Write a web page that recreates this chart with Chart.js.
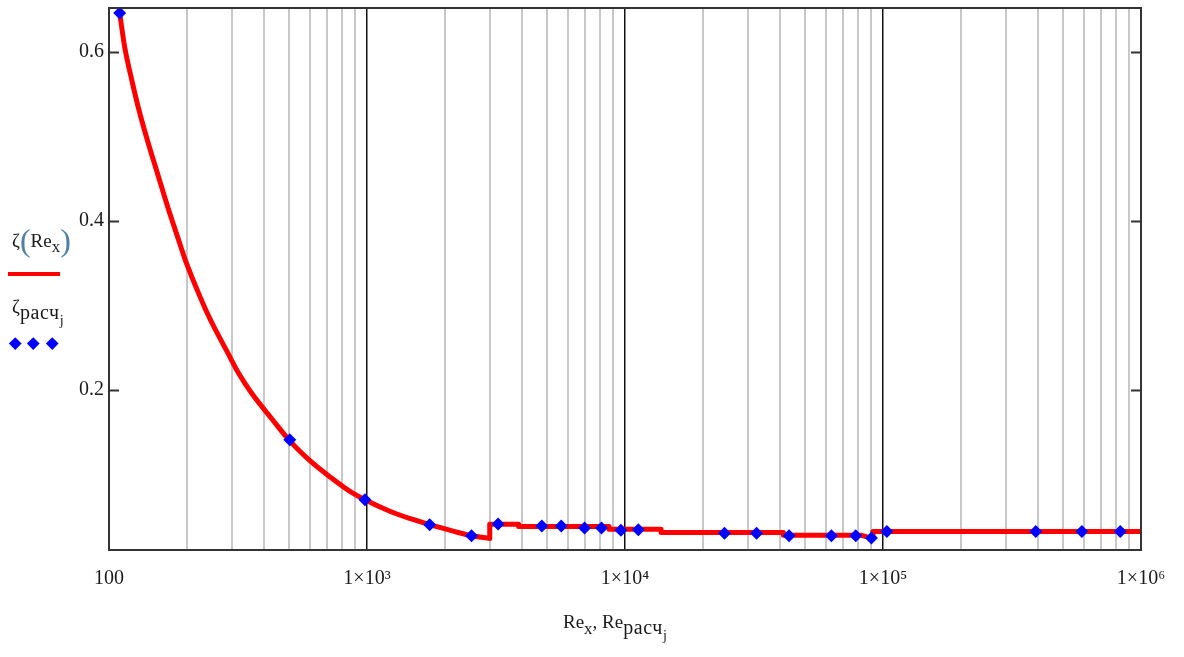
<!DOCTYPE html>
<html>
<head>
<meta charset="utf-8">
<script src="https://cdn.jsdelivr.net/npm/chart.js@4/dist/chart.umd.min.js"></script>
<style>
  html, body { margin: 0; padding: 0; background: #fff; }
  #wrap { position: relative; width: 1184px; height: 657px; overflow: hidden; }
  canvas { position: absolute; left: 0; top: 0; }
  .lbl { position: absolute; font-family: 'Liberation Serif', 'Times New Roman', serif; font-size: 19px; color: #1a1a1a; white-space: nowrap; line-height: 1; }
  .lbl sub { font-size: 17px; vertical-align: -0.35em; line-height: 1; }
  .lbl .cyr { font-size: 20px; letter-spacing: 0.6px; vertical-align: -0.3em; }
  .lbl sub sub { font-size: 14px; vertical-align: -0.4em; letter-spacing: 0; }
  .paren { font-size: 32px; vertical-align: -0.14em; color: #4f7fa6; font-weight: 100; }
  .diam { position: absolute; width: 8.5px; height: 8.5px; background: #0000ff; transform: rotate(45deg); }
</style>
</head>
<body>
<div id="wrap">
  <canvas id="c" width="1184" height="657"></canvas>
  <div class="lbl" style="left:12px; top:224px;">ζ<span class="paren">(</span>Re<sub>x</sub><span class="paren">)</span></div>
  <div style="position:absolute; left:8px; top:272px; width:52px; height:4px; background:#ff0000;"></div>
  <div class="lbl" style="left:12px; top:297px;">ζ<sub class="cyr">расч<sub>j</sub></sub></div>
  <div class="diam" style="left:10.7px; top:338.7px;"></div>
  <div class="diam" style="left:28.7px; top:338.7px;"></div>
  <div class="diam" style="left:47.7px; top:338.7px;"></div>
  <div class="lbl" style="left:563px; top:612px;">Re<sub>x</sub>, Re<sub class="cyr">расч<sub>j</sub></sub></div>
</div>
<script>
// ---- data ----
// laminar part of ζ(Re) (smooth curve)
const curveRe = [110, 115, 122.5, 130, 142, 155, 170, 186, 197, 216, 243, 291, 318, 358, 428, 502, 604, 722, 862, 982, 1233, 1519, 1750, 2175, 2541, 2990];
const curveZeta = [0.646, 0.606, 0.567, 0.534, 0.492, 0.454, 0.414, 0.378, 0.355, 0.324, 0.288, 0.242, 0.220, 0.196, 0.166, 0.140, 0.116, 0.097, 0.080, 0.0704, 0.0566, 0.0468, 0.0409, 0.033, 0.0279, 0.025];
// turbulent part of ζ(Re) (stepped)
const stepRe = [2990, 2990, 3870, 3870, 8670, 8670, 13800, 13800, 41100, 41100, 82600, 91400, 91400, 1000000];
const stepZeta = [0.025, 0.0415, 0.0415, 0.0389, 0.0389, 0.0356, 0.0356, 0.0318, 0.0318, 0.0283, 0.0283, 0.0245, 0.0328, 0.0328];

const pointRe = [110, 502, 982, 1750, 2541, 3222, 4760, 5660, 6970, 8110, 9640, 11260, 24300, 32350, 43250, 63100, 78400, 90200, 103500, 391000, 590000, 831000];
const pointZeta = [0.646, 0.1413, 0.0704, 0.0409, 0.0279, 0.0417, 0.0393, 0.0393, 0.0370, 0.0370, 0.0345, 0.0350, 0.0308, 0.0308, 0.0279, 0.0279, 0.0279, 0.0252, 0.0330, 0.0330, 0.0330, 0.0330];

const xDecades = [100, 1000, 10000, 100000, 1000000];
const xTickLabels = ['100', '1×10³', '1×10⁴', '1×10⁵', '1×10⁶'];
const yTickValues = [0.2, 0.4, 0.6];
const yTickLabels = ['0.2', '0.4', '0.6'];

const xMin = 100, xMax = 1000000, yMin = 0.011, yMax = 0.652;

// ---- build chart ----
const curveData = curveRe.map((x, i) => ({ x: x, y: curveZeta[i] }));
const stepData = stepRe.map((x, i) => ({ x: x, y: stepZeta[i] }));
const pointData = pointRe.map((x, i) => ({ x: x, y: pointZeta[i] }));

function isDecade(v) { return xDecades.some(d => Math.abs(d - v) / d < 1e-9); }

const framePlugin = {
  id: 'frame',
  afterDraw(chart) {
    const { ctx, chartArea: a } = chart;
    const ys = chart.scales.y;
    ctx.save();
    ctx.strokeStyle = '#333';
    ctx.lineWidth = 2;
    ctx.strokeRect(a.left, a.top, a.right - a.left, a.bottom - a.top);
    yTickValues.forEach(v => {
      const py = Math.round(ys.getPixelForValue(v)) + 0.5;
      ctx.beginPath();
      ctx.moveTo(a.left, py); ctx.lineTo(a.left + 10, py);
      ctx.moveTo(a.right, py); ctx.lineTo(a.right - 10, py);
      ctx.stroke();
    });
    ctx.restore();
  }
};

Chart.defaults.font.family = "'Liberation Serif', 'Times New Roman', serif";
Chart.defaults.font.size = 20;
Chart.defaults.color = '#1a1a1a';

const redLine = {
  showLine: true,
  borderColor: '#ff0000',
  backgroundColor: '#ff0000',
  borderWidth: 5,
  pointRadius: 0,
  borderJoinStyle: 'round',
  borderCapStyle: 'round',
  order: 2
};

new Chart(document.getElementById('c'), {
  type: 'scatter',
  data: {
    datasets: [
      Object.assign({ label: 'ζ(Re_x)', data: curveData, cubicInterpolationMode: 'monotone' }, redLine),
      Object.assign({ label: 'ζ(Re_x) turbulent', data: stepData, tension: 0 }, redLine),
      {
        label: 'ζ_расч_j',
        data: pointData,
        showLine: false,
        pointStyle: 'rectRot',
        pointRadius: 6.5,
        pointBackgroundColor: '#0000ff',
        pointBorderColor: '#0000ff',
        pointBorderWidth: 0,
        order: 1
      }
    ]
  },
  options: {
    responsive: false,
    animation: false,
    events: [],
    layout: { padding: { left: 0, right: 43, top: 8, bottom: 0 } },
    plugins: { legend: { display: false }, tooltip: { enabled: false } },
    scales: {
      x: {
        type: 'logarithmic',
        min: xMin,
        max: xMax,
        afterBuildTicks(scale) {
          const t = [];
          for (let e = 2; e < 6; e++) {
            for (let m = 1; m <= 9; m++) t.push({ value: m * Math.pow(10, e) });
          }
          t.push({ value: 1000000 });
          scale.ticks = t;
        },
        afterFit(scale) { scale.height = 107; scale.paddingLeft = 0; scale.paddingRight = 0; },
        ticks: {
          autoSkip: false,
          maxRotation: 0,
          padding: 17,
          color: '#1a1a1a',
          font: { size: 20 },
          callback(value) {
            const i = xDecades.findIndex(d => Math.abs(d - value) / d < 1e-9);
            return i >= 0 ? xTickLabels[i] : '';
          }
        },
        grid: {
          drawTicks: false,
          color(ctx) { return ctx.tick && isDecade(ctx.tick.value) ? '#111' : '#c8c8c8'; },
          lineWidth(ctx) { return ctx.tick && isDecade(ctx.tick.value) ? 1.5 : 2; }
        },
        border: { display: false }
      },
      y: {
        type: 'linear',
        min: yMin,
        max: yMax,
        afterBuildTicks(scale) { scale.ticks = yTickValues.map(v => ({ value: v })); },
        afterFit(scale) { scale.width = 109; scale.paddingTop = 0; scale.paddingBottom = 0; },
        ticks: {
          padding: 5,
          color: '#1a1a1a',
          font: { size: 20 },
          callback(value) {
            const i = yTickValues.findIndex(v => Math.abs(v - value) < 1e-9);
            return i >= 0 ? yTickLabels[i] : '';
          }
        },
        grid: { display: false, drawTicks: false },
        border: { display: false }
      }
    }
  },
  plugins: [framePlugin]
});
</script>
</body>
</html>
